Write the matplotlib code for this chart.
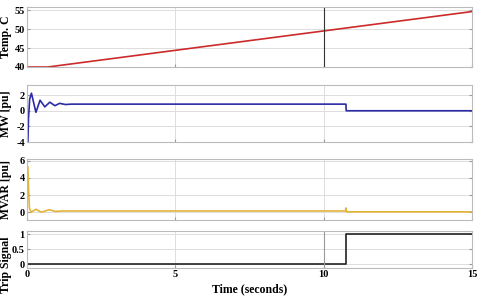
import matplotlib
matplotlib.use('Agg')
import matplotlib.pyplot as plt

plt.rcParams['font.family'] = 'Liberation Serif'
plt.rcParams['font.weight'] = 'bold'

# temperature
t_temp = [0, 0.7, 15]
temp = [40, 40, 54.6]

# active power (pu)
t_mw = [0, 0.03, 0.05, 0.09, 0.15, 0.3, 0.44, 0.6, 0.77, 0.94, 1.1, 1.3, 1.5, 10.75, 10.76, 15]
mw = [-4.0, -4.0, -1.0, 1.5, 2.25, -0.2, 1.35, 0.5, 1.1, 0.65, 0.95, 0.8, 0.85, 0.85, 0.0, 0.0]

# reactive power (pu)
t_mvar = [0, 0.03, 0.05, 0.08, 0.14, 0.3, 0.48, 0.75, 0.95, 1.2, 10.74, 10.75, 10.77, 15]
mvar = [5.3, 5.3, 3.0, 0.5, 0.0, 0.35, 0.0, 0.3, 0.1, 0.15, 0.15, 0.5, 0.05, 0.05]

# trip signal
t_trip = [0, 10.75, 10.75, 15]
trip = [0, 0, 1, 1]

ylabels = ['Temp. C', 'MW [pu]', 'MVAR [pu]', 'Trip Signal']
label_y = [0.5, 0.5, 0.5, 0.1]
yticks = [[40, 45, 50, 55], [-4, -2, 0, 2], [0, 2, 4, 6], [0, 0.5, 1]]
ytlabels = [['40', '45', '50', '55'], ['-4', '-2', '0', '2'], ['0', '2', '4', '6'], ['0', '0.5', '1']]
ylims = [(40, 55.8), (-4, 3.3), (-0.9, 6.2), (-0.12, 1.11)]
xticks = [0, 5, 10, 15]

fig = plt.figure(figsize=(4.8, 3.07), dpi=100)
boxes = [(7, 67), (85, 142), (159, 220), (231, 268)]
axes = []
for top, bot in boxes:
    ax = fig.add_axes([27 / 480, 1 - bot / 307, 445 / 480, (bot - top) / 307])
    axes.append(ax)

series = [(t_temp, temp, '#cc2b2b'), (t_mw, mw, '#2b2ba6'),
          (t_mvar, mvar, '#e2b53a'), (t_trip, trip, '#222222')]

for i, ax in enumerate(axes):
    x, y, c = series[i]
    ax.plot(x, y, color=c, lw=1.2)
    ax.set_xlim(0, 15)
    ax.set_ylim(*ylims[i])
    ax.set_yticks(yticks[i])
    ax.set_yticklabels(ytlabels[i], fontsize=7.5, fontweight='bold')
    ax.set_xticks(xticks)
    ax.grid(True, color='#dddddd', lw=0.7)
    ax.tick_params(direction='in', length=2, color='#999999', pad=1.5, right=True)
    for s in ax.spines.values():
        s.set_color('#bbbbbb')
        s.set_linewidth(0.8)
    ax.set_ylabel(ylabels[i], fontsize=8.5, fontweight='bold')
    ax.yaxis.set_label_coords(-0.034, label_y[i])
    if i < 3:
        ax.set_xticklabels([])
    else:
        ax.set_xticklabels(['0', '5', '10', '15'], fontsize=7.5, fontweight='bold')
        ax.set_xlabel('Time (seconds)', fontsize=8.5, fontweight='bold', labelpad=3)

axes[0].axvline(10, color='#333333', lw=0.8)
axes[3].axvline(10, color='#999999', lw=0.8)

fig.savefig('out.png', dpi=100)
